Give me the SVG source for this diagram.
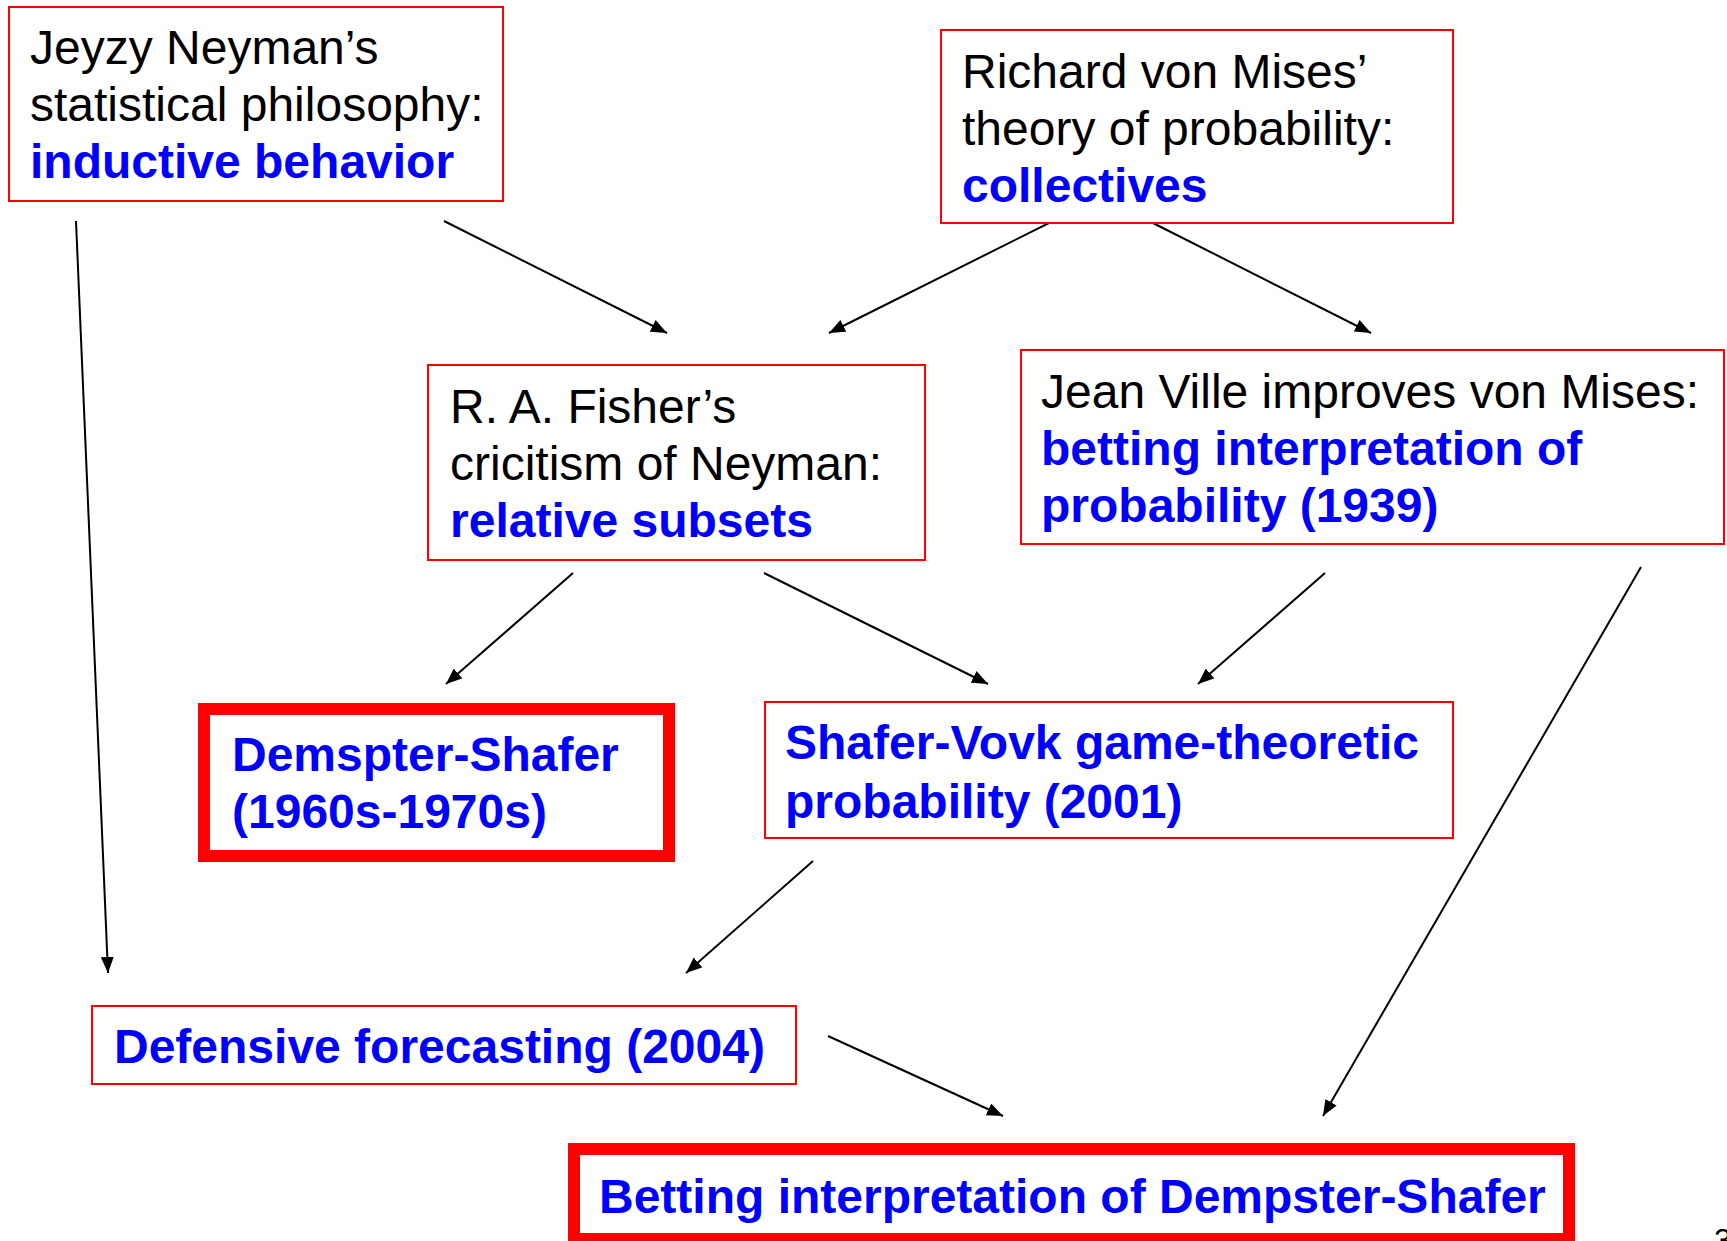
<svg xmlns="http://www.w3.org/2000/svg" width="1727" height="1241" viewBox="0 0 1727 1241">
<style>
  .box{fill:#fff;stroke:#ff0000;stroke-width:2}
  .thick{fill:#fff;stroke:#ff0000;stroke-width:12}
  .t{font-family:"Liberation Sans",Arial,sans-serif;font-size:48px;fill:#000}
  .b{font-family:"Liberation Sans",Arial,sans-serif;font-size:48px;font-weight:bold;fill:#0000ff}
  .c{stroke:#000;stroke-width:2;fill:none;marker-end:url(#ah)}
</style>
<defs>
  <marker id="ah" markerUnits="userSpaceOnUse" markerWidth="18" markerHeight="14" refX="16" refY="6.5" orient="auto">
    <path d="M0,0 L16,6.5 L0,13 z" fill="#000"/>
  </marker>
</defs>
<rect width="1727" height="1241" fill="#fff"/>
<g id="connectors">
  <line class="c" x1="76" y1="221" x2="108" y2="973"/>
  <line class="c" x1="444" y1="221" x2="667" y2="333"/>
  <line class="c" x1="1053" y1="221" x2="829" y2="333"/>
  <line class="c" x1="1149" y1="221" x2="1371" y2="333"/>
  <line class="c" x1="573" y1="573" x2="446" y2="684"/>
  <line class="c" x1="764" y1="573" x2="988" y2="684"/>
  <line class="c" x1="1325" y1="573" x2="1198" y2="684"/>
  <line class="c" x1="1641" y1="567" x2="1323" y2="1116"/>
  <line class="c" x1="813" y1="861" x2="686" y2="973"/>
  <line class="c" x1="828" y1="1036" x2="1003" y2="1116"/>
</g>
<g id="neyman">
  <rect class="box" x="9" y="7" width="494" height="194"/>
  <text class="t" x="30" y="64">Jeyzy Neyman’s</text>
  <text class="t" x="30" y="121">statistical philosophy:</text>
  <text class="b" x="30" y="178">inductive behavior</text>
</g>
<g id="mises">
  <rect class="box" x="941" y="30" width="512" height="193"/>
  <text class="t" x="962" y="88">Richard von Mises’</text>
  <text class="t" x="962" y="145">theory of probability:</text>
  <text class="b" x="962" y="202">collectives</text>
</g>
<g id="fisher">
  <rect class="box" x="428" y="365" width="497" height="195"/>
  <text class="t" x="450" y="423">R. A. Fisher’s</text>
  <text class="t" x="450" y="480">cricitism of Neyman:</text>
  <text class="b" x="450" y="537">relative subsets</text>
</g>
<g id="ville">
  <rect class="box" x="1021" y="350" width="703" height="194"/>
  <text class="t" x="1041" y="408">Jean Ville improves von Mises:</text>
  <text class="b" x="1041" y="465">betting interpretation of</text>
  <text class="b" x="1041" y="522">probability (1939)</text>
</g>
<g id="dempster-shafer">
  <rect class="thick" x="204" y="709" width="465" height="147"/>
  <text class="b" x="232" y="771">Demspter-Shafer</text>
  <text class="b" x="232" y="828">(1960s-1970s)</text>
</g>
<g id="shafer-vovk">
  <rect class="box" x="765" y="702" width="688" height="136"/>
  <text class="b" x="785" y="759">Shafer-Vovk game-theoretic</text>
  <text class="b" x="785" y="818">probability (2001)</text>
</g>
<g id="defensive">
  <rect class="box" x="92" y="1006" width="704" height="78"/>
  <text class="b" x="114" y="1063">Defensive forecasting (2004)</text>
</g>
<g id="betting-ds">
  <rect class="thick" x="574" y="1149" width="995" height="90"/>
  <text class="b" x="599" y="1213">Betting interpretation of Dempster-Shafer</text>
</g>
<text class="t" x="1714" y="1251" style="font-size:32px">3</text>
</svg>
